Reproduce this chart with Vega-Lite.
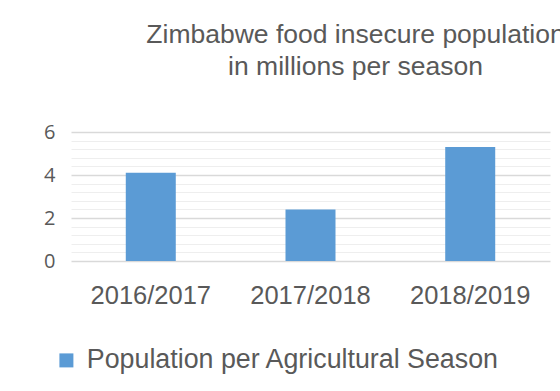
{
  "$schema": "https://vega.github.io/schema/vega-lite/v6.json",
  "width": 479,
  "height": 129,
  "autosize": {"type": "none"},
  "padding": {"left": 71, "top": 132, "right": 10, "bottom": 130},
  "background": "white",
  "title": {
    "text": ["Zimbabwe food insecure population", "in millions per season"],
    "font": "Liberation Sans",
    "fontSize": 26.5,
    "fontWeight": "normal",
    "color": "#595959",
    "anchor": "middle",
    "frame": "group",
    "dx": 45,
    "lineHeight": 32,
    "offset": 42
  },
  "data": {
    "values": [
      {"season": "2016/2017", "population": 4.1, "series": "Population per Agricultural Season"},
      {"season": "2017/2018", "population": 2.4, "series": "Population per Agricultural Season"},
      {"season": "2018/2019", "population": 5.3, "series": "Population per Agricultural Season"}
    ]
  },
  "mark": {"type": "bar"},
  "encoding": {
    "x": {
      "field": "season",
      "type": "nominal",
      "sort": null,
      "scale": {"paddingInner": 0.687, "paddingOuter": 0.343},
      "axis": {
        "title": null,
        "labelAngle": 0,
        "labelFont": "Liberation Sans",
        "labelFontSize": 25.5,
        "labelColor": "#595959",
        "labelPadding": 22,
        "domain": false,
        "ticks": false,
        "grid": false
      }
    },
    "y": {
      "field": "population",
      "type": "quantitative",
      "scale": {"domain": [0, 6], "nice": false},
      "axis": {
        "title": null,
        "values": [0, 0.4, 0.8, 1.2, 1.6, 2, 2.4, 2.8, 3.2, 3.6, 4, 4.4, 4.8, 5.2, 5.6, 6],
        "labelExpr": "abs(datum.value - round(datum.value / 2) * 2) < 0.01 ? format(datum.value, 'd') : ''",
        "labelFont": "Open Sans",
        "labelFontSize": 20,
        "labelColor": "#595959",
        "labelPadding": 16,
        "domain": false,
        "ticks": false,
        "grid": true,
        "gridColor": {
          "condition": {"test": "abs(datum.value - round(datum.value / 2) * 2) < 0.01", "value": "#d9d9d9"},
          "value": "#eeeeee"
        },
        "gridWidth": {
          "condition": {"test": "abs(datum.value - round(datum.value / 2) * 2) < 0.01", "value": 1.5},
          "value": 1
        }
      }
    },
    "color": {
      "field": "series",
      "type": "nominal",
      "scale": {"range": ["#5b9bd5"]},
      "legend": {
        "title": null,
        "orient": "none",
        "legendX": -18,
        "legendY": 215,
        "padding": 0,
        "symbolType": "square",
        "symbolSize": 196,
        "symbolStrokeWidth": 0,
        "labelFont": "Liberation Sans",
        "labelFontSize": 26.8,
        "labelColor": "#595959",
        "labelOffset": 7,
        "labelLimit": 600
      }
    }
  },
  "config": {
    "view": {"stroke": null}
  }
}
